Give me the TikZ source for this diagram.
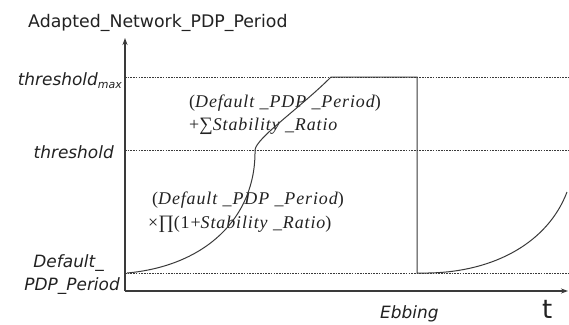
\documentclass[tikz,border=0pt]{standalone}
\usepackage{fontspec}
\setmainfont{Liberation Serif}
\newfontfamily\fml[LetterSpace=5]{Liberation Serif}
\newfontfamily\opf{Liberation Serif}
\newfontfamily\sansf{DejaVu Sans}
\usetikzlibrary{arrows.meta}
\definecolor{linec}{HTML}{3A3A3A}
\definecolor{txt}{HTML}{222222}
\newcommand{\bigsum}{{\opf\upshape\fontsize{19}{19}\selectfont ∑}}
\newcommand{\bigprod}{{\opf\upshape\fontsize{19}{19}\selectfont ∏}}
\begin{document}
\begin{tikzpicture}[x=1bp,y=-1bp,
  axis/.style={draw=linec, line width=1.1bp},
  guide/.style={draw=linec, dash pattern=on 1.6bp off 1.1bp, line width=0.7bp},
  curve/.style={draw=linec, line width=1bp},
  lab/.style={font=\sansf\itshape\fontsize{17}{17}\selectfont, text=txt, inner sep=0, anchor=base east},
  formula/.style={font=\fml\itshape\fontsize{18}{18}\selectfont, text=txt, inner sep=0, anchor=base west, text height=12bp, text depth=3bp},
  title/.style={font=\sansf\fontsize{17.4}{17.4}\selectfont, text=txt, inner sep=0, anchor=base west}]
\useasboundingbox[fill=white] (0,0) rectangle (569,324);

% title
\node[title] (ttl) at (28,27) {Adapted\_Network\_PDP\_Period};

% axes
\coordinate (o) at (125,291);
\coordinate (ytop) at (125,38);
\coordinate (xend) at (568,291);
\draw[axis,-{Stealth[length=7bp,width=5bp]}] (o) -- (ytop);
\draw[axis,-{Stealth[length=7bp,width=5bp]}] (o) -- (xend);

% guide lines
\coordinate (tmL) at (125,77);  \coordinate (tmR) at (569,77);
\coordinate (thL) at (125,150); \coordinate (thR) at (569,150);
\coordinate (dfL) at (125,273); \coordinate (dfR) at (569,273);
\draw[guide] (tmL) -- (tmR);
\draw[guide] (thL) -- (thR);
\draw[guide] (dfL) -- (dfR);

% left labels
\node[lab] (lmax) at (122,85) {threshold\raisebox{-0.35ex}{\fontsize{11}{11}\selectfont max}};
\node[lab] (lth) at (114,158) {threshold};
\node[lab] (ldef) at (104,267) {Default\_};
\node[lab] (lpdp) at (120,290) {PDP\_Period};

% axis labels
\node[font=\sansf\itshape\fontsize{17}{17}\selectfont, text=txt, inner sep=0, anchor=base west] (ebb) at (380,318) {Ebbing};
\node[font=\sansf\fontsize{26}{26}\selectfont, text=txt, inner sep=0, anchor=base west] (tl) at (542,318) {t};

% formulas
\node[formula] (f1a) at (189,107) {{\upshape(}Default \_PDP \_Period{\upshape)}};
\node[formula] (f1b) at (189,130) {{\upshape+}\bigsum Stability \_Ratio};
\node[formula] (f2a) at (152,204) {{\upshape(}Default \_PDP \_Period{\upshape)}};
\node[formula] (f2b) at (148,228) {{\upshape×}\bigprod{\upshape(1+}Stability \_Ratio{\upshape)}};

% curves
\coordinate (c0) at (127,273);
\coordinate (c1) at (255,150);
\coordinate (c2) at (331,77);
\coordinate (c3) at (417,77);
\coordinate (c4) at (417,273);
\coordinate (c5) at (428,273);
\coordinate (c6) at (567,192);
\draw[curve] (c0) .. controls (205,266) and (256,218) .. (c1)
  .. controls (256,138) and (300,108) .. (c2) -- (c3) -- (c4) -- (c5)
  .. controls (495,272) and (548,242) .. (c6);
\end{tikzpicture}
\end{document}
